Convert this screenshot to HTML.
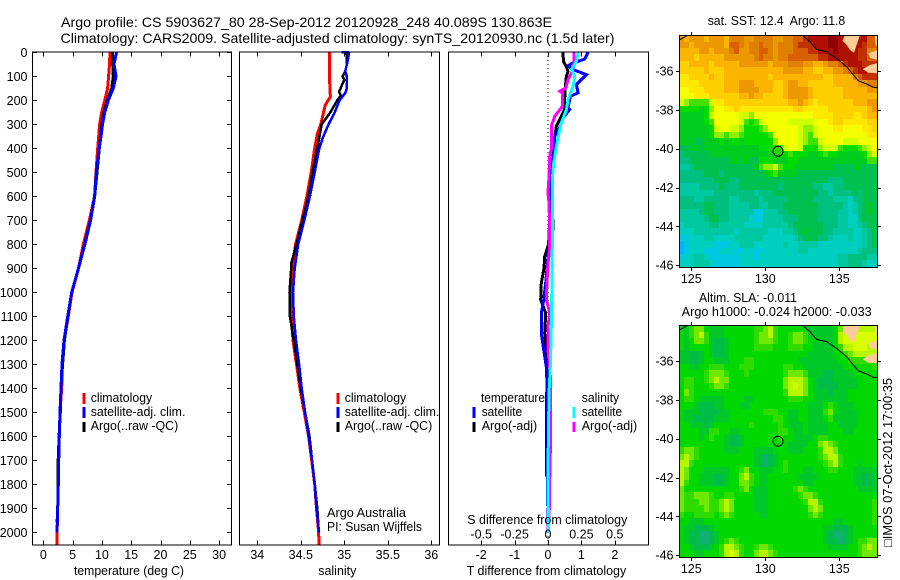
<!DOCTYPE html>
<html lang="en">
<head>
<meta charset="utf-8">
<title>Argo profile CS 5903627_80</title>
<style>
html,body{margin:0;padding:0;background:#fff;width:900px;height:580px;overflow:hidden}
svg{display:block}
text{font-family:"Liberation Sans",sans-serif;font-size:12.5px;fill:#000}
.t{font-size:14px}
</style>
</head>
<body>
<svg id="chart" width="900" height="580" viewBox="0 0 900 580" xmlns="http://www.w3.org/2000/svg">
  <text class="t" x="61" y="27" textLength="491" lengthAdjust="spacingAndGlyphs">Argo profile: CS 5903627_80 28-Sep-2012 20120928_248 40.089S 130.863E</text>
  <text class="t" x="60.5" y="43" textLength="554" lengthAdjust="spacingAndGlyphs">Climatology: CARS2009. Satellite-adjusted climatology: synTS_20120930.nc (1.5d later)</text>
  <g id="layer-maps"></g>
  <g id="layer-panels"></g>

  <text x="74" y="575" textLength="110" lengthAdjust="spacingAndGlyphs">temperature (deg C)</text>
  <text x="318.3" y="575" textLength="38" lengthAdjust="spacingAndGlyphs">salinity</text>
  <text x="466.7" y="575" textLength="159.5" lengthAdjust="spacingAndGlyphs">T difference from climatology</text>
  <text x="467.3" y="524" textLength="160" lengthAdjust="spacingAndGlyphs">S difference from climatology</text>

  <g>
    <line x1="84" x2="84" y1="393" y2="404" stroke="#f00" stroke-width="3" shape-rendering="crispEdges"/>
    <line x1="84" x2="84" y1="407" y2="418" stroke="#00f" stroke-width="3" shape-rendering="crispEdges"/>
    <line x1="84" x2="84" y1="422" y2="432" stroke="#000" stroke-width="3" shape-rendering="crispEdges"/>
    <text x="90.7" y="402" textLength="61.5" lengthAdjust="spacingAndGlyphs">climatology</text>
    <text x="90.7" y="416" textLength="94.7" lengthAdjust="spacingAndGlyphs">satellite-adj. clim.</text>
    <text x="90.7" y="430" textLength="87.6" lengthAdjust="spacingAndGlyphs">Argo(..raw -QC)</text>
  </g>
  <g>
    <line x1="338" x2="338" y1="393" y2="404" stroke="#f00" stroke-width="3" shape-rendering="crispEdges"/>
    <line x1="338" x2="338" y1="407" y2="418" stroke="#00f" stroke-width="3" shape-rendering="crispEdges"/>
    <line x1="338" x2="338" y1="422" y2="432" stroke="#000" stroke-width="3" shape-rendering="crispEdges"/>
    <text x="344.7" y="402" textLength="61.5" lengthAdjust="spacingAndGlyphs">climatology</text>
    <text x="344.7" y="416" textLength="94.7" lengthAdjust="spacingAndGlyphs">satellite-adj. clim.</text>
    <text x="344.7" y="430" textLength="87.6" lengthAdjust="spacingAndGlyphs">Argo(..raw -QC)</text>
    <text x="327" y="517" textLength="79" lengthAdjust="spacingAndGlyphs">Argo Australia</text>
    <text x="327" y="531" textLength="95" lengthAdjust="spacingAndGlyphs">PI: Susan Wijffels</text>
  </g>
  <g>
    <line x1="474" x2="474" y1="407" y2="418" stroke="#00f" stroke-width="3" shape-rendering="crispEdges"/>
    <line x1="474" x2="474" y1="422" y2="432" stroke="#000" stroke-width="3" shape-rendering="crispEdges"/>
    <line x1="574" x2="574" y1="407" y2="418" stroke="#0ff" stroke-width="3" shape-rendering="crispEdges"/>
    <line x1="574" x2="574" y1="422" y2="432" stroke="#f0f" stroke-width="3" shape-rendering="crispEdges"/>
    <text x="481" y="402" textLength="64" lengthAdjust="spacingAndGlyphs">temperature</text>
    <text x="481.7" y="416" textLength="40.5" lengthAdjust="spacingAndGlyphs">satellite</text>
    <text x="481.7" y="430" textLength="55.5" lengthAdjust="spacingAndGlyphs">Argo(-adj)</text>
    <text x="581.7" y="402" textLength="37.5" lengthAdjust="spacingAndGlyphs">salinity</text>
    <text x="581.7" y="416" textLength="40.5" lengthAdjust="spacingAndGlyphs">satellite</text>
    <text x="581.7" y="430" textLength="55.5" lengthAdjust="spacingAndGlyphs">Argo(-adj)</text>
  </g>

  <text x="707.7" y="25" textLength="137.5" lengthAdjust="spacingAndGlyphs" xml:space="preserve">sat. SST: 12.4  Argo: 11.8</text>
  <text x="699" y="302" textLength="98" lengthAdjust="spacingAndGlyphs">Altim. SLA: -0.011</text>
  <text x="681.7" y="316" textLength="190" lengthAdjust="spacingAndGlyphs">Argo h1000: -0.024 h2000: -0.033</text>
  <text transform="translate(892,547) rotate(-90)" x="0" y="0" textLength="169" lengthAdjust="spacingAndGlyphs" style="font-family:'Liberation Sans','DejaVu Sans',sans-serif">□IMOS 07-Oct-2012 17:00:35</text>
</svg>
<script>
/* ---------- axis tick data ---------- */
const depthTicks = [0,100,200,300,400,500,600,700,800,900,1000,1100,1200,1300,1400,1500,1600,1700,1800,1900,2000];
const tempTicks = [0,5,10,15,20,25,30];
const salTicks = [34,34.5,35,35.5,36];
const salTickLabels = ['34','34.5','35','35.5','36'];
const tDiffTicks = [-2,-1,0,1,2];
const sDiffTicks = [-0.5,-0.25,0,0.25,0.5];
const sDiffTickLabels = ['-0.5','-0.25','0','0.25','0.5'];
const lonTicks = [125,130,135];
const latTicks = [-36,-38,-40,-42,-44,-46];

/* ---------- temperature profiles ---------- */
const climTempDepths = [0,50,100,150,200,250,300,350,400,500,600,700,800,900,1000,1100,1200,1300,1400,1500,1600,1700,1800,1900,2000,2053];
const climTempValues = [11.38,11.3,11.15,10.98,10.5,9.97,9.6,9.45,9.28,9.0,8.75,7.85,6.83,6.0,4.9,4.27,3.55,3.24,3.14,2.85,2.73,2.62,2.56,2.45,2.36,2.34];
const argoTempDepths = [0,50,100,150,200,250,300,350,400,500,600,700,800,900,1000,1100,1200,1300,1400,1500,1600,1700,1800,1900,1960];
const argoTempValues = [11.84,11.84,11.95,11.67,10.93,10.36,10.0,9.8,9.56,9.16,8.75,8.05,7.05,6.0,4.85,4.2,3.6,3.3,3.0,2.9,2.7,2.55,2.55,2.45,2.35];
const satTempDepths = [0,50,100,150,200,250,300,350,400,500,600,700,800,900,1000,1100,1200,1300,1400,1500,1600,1700,1800,1900,1950,2000];
const satTempValues = [12.5,12.07,12.4,11.95,11.1,10.5,10.1,9.85,9.56,9.05,8.77,8.08,7.1,6.0,4.85,4.16,3.53,3.19,3.02,2.85,2.73,2.62,2.56,2.45,2.42,2.3];

/* ---------- salinity profiles ---------- */
const climSalDepths = [0,100,150,185,220,300,340,400,500,600,700,800,900,1000,1100,1200,1300,1400,1500,1600,1700,1800,1900,2000,2053];
const climSalValues = [34.83,34.83,34.835,34.84,34.78,34.73,34.69,34.66,34.62,34.57,34.51,34.44,34.40,34.38,34.39,34.41,34.45,34.49,34.54,34.59,34.625,34.66,34.68,34.705,34.71];
const argoSalDepths = [0,20,50,80,100,115,130,165,180,200,250,300,350,400,500,600,700,800,880,900,1000,1100,1200,1300,1400,1500,1600,1700,1800,1900,1960];
const argoSalValues = [35.02,35.03,35.03,35.01,34.98,35.0,34.98,34.94,34.96,34.92,34.84,34.74,34.715,34.69,34.635,34.59,34.52,34.45,34.39,34.39,34.37,34.375,34.42,34.46,34.5,34.55,34.6,34.63,34.66,34.69,34.7];
const satSalDepths = [0,1,15,50,80,100,150,170,200,250,300,350,400,500,600,700,800,900,1000,1100,1200,1300,1400,1500,1600,1700,1800,1900,2000];
const satSalValues = [34.97,35.05,35.05,35.03,35.01,35.03,35.03,35.01,34.946,34.89,34.82,34.76,34.713,34.66,34.605,34.54,34.47,34.43,34.41,34.42,34.445,34.48,34.51,34.55,34.59,34.63,34.66,34.68,34.71];

/* ---------- difference profiles ---------- */
const diffArgoTempDepths = [0,10,40,60,80,100,140,190,239,308,350,433,489,600,690,700,740,750,808,850,900,961,1030,1087,1171,1280,1450,1767];
const diffArgoTempValues = [0.45,0.45,0.47,0.55,0.6,0.55,0.52,0.5,0.5,0.25,0.2,0.15,0.1,0.1,0.1,0.15,0.15,0.1,0.0,-0.1,-0.12,-0.2,-0.22,-0.07,-0.1,-0.03,-0.04,-0.05];
const diffSatTempDepths = [0,28,38,44,56,72,93,114,135,169,183,231,238,274,308,350,433,503,558,700,850,960,1032,1087,1171,1240,1310,1379,1546,2000];
const diffSatTempValues = [1.2,1.1,0.9,0.75,0.6,0.75,1.15,1.0,0.85,0.9,0.67,0.6,0.65,0.45,0.37,0.2,0.17,0.1,0.05,0.05,0.0,-0.07,-0.13,-0.2,-0.2,-0.13,-0.05,-0.03,-0.03,0.0];
const diffArgoSalDepths = [0,38,72,86,114,149,162,169,225,267,308,406,433,517,586,628,739,822,878,961,1030,1087,1143,1240,1365,1587,1781,1878,1990];
const diffArgoSalValues = [0.195,0.195,0.1875,0.175,0.15,0.1325,0.0875,0.1075,0.1075,0.05,0.025,0.025,0.0125,0.0075,0,0.0075,0.0125,0.0125,0,-0.0075,-0.0125,0.0125,0,0,0.02,0.02,0.0125,0.0125,0];
const diffSatSalDepths = [0,38,72,100,142,197,239,294,336,392,461,531,808,1030,1143,1310,1421,1726,2000];
const diffSatSalValues = [0.225,0.2125,0.175,0.2,0.1875,0.15,0.1375,0.1,0.0825,0.0625,0.0425,0.0325,0.0325,0.0275,0.025,0.0175,0.0075,0,0.003];

/* ---------- map colour scale levels ---------- */
const sstLevelColors = ['#00b4ff','#00c8e0','#00cfc0','#00c8a0','#00c080','#00c050','#00cc20','#00dc00','#40e000','#90f000','#d0ff00','#f4ff00','#ffe800','#ffd000','#fbb400','#ec9800','#e08000','#d86000','#c03000','#b01000','#900000'];
const slaLevelColors = ['#00a0c0','#00a8a0','#00b090','#08b080','#10b070','#00bc48','#00c828','#00d800','#30dc00','#70e800','#b8f600','#d8ff00'];

/* ---------- SST heatmap levels, north to south ---------- */
const sstRows = [
[15,14,15,15,15,14,15,15,15,14,16,16,16,15,15,16,16,16,16,15,15,16,16,17,17,18,19,19,19,19,20,20,19,19,19,19,19,19,17,17],
[15,15,14,15,15,15,15,15,15,14,17,17,16,15,16,16,17,16,16,15,16,16,16,17,18,18,18,19,19,19,20,20,19,19,19,19,19,18,17,17],
[14,14,14,14,15,15,14,15,15,15,16,17,15,15,16,16,17,17,16,15,16,16,16,17,17,17,18,18,19,19,19,20,19,19,19,19,18,18,16,16],
[14,14,14,13,14,14,14,14,14,15,15,15,15,15,15,16,17,16,16,15,16,16,17,17,17,17,17,17,18,18,19,19,19,19,19,19,18,18,17,17],
[13,13,14,14,14,14,13,14,14,14,14,14,15,15,15,15,15,15,14,15,15,15,16,16,16,15,15,14,14,15,16,16,17,18,19,19,19,18,18,18],
[13,13,13,13,13,14,13,13,13,14,14,14,14,14,14,14,14,14,14,14,14,15,15,15,15,14,14,13,13,14,14,15,15,16,17,18,19,19,18,18],
[12,12,13,13,13,13,14,13,13,14,14,14,14,14,14,14,14,14,13,14,14,14,14,14,14,14,14,14,14,13,13,14,14,14,14,16,17,18,18,18],
[12,12,12,12,13,13,13,13,13,14,14,14,15,15,15,14,14,14,14,13,13,14,15,15,14,14,13,13,13,13,13,14,14,14,14,14,15,15,16,16],
[11,11,12,12,12,13,13,13,13,14,14,14,15,15,15,15,14,14,14,13,13,14,15,15,15,15,14,13,13,13,13,13,13,14,14,14,14,14,15,15],
[11,11,11,12,12,12,13,13,13,13,13,13,14,14,15,14,14,13,13,13,13,14,15,15,15,15,14,13,13,13,13,13,13,14,14,14,14,14,14,14],
[10,9,8,8,8,8,10,12,12,13,13,13,13,13,13,13,13,13,13,13,13,13,14,14,15,14,13,12,13,13,13,13,13,13,13,14,14,14,15,15],
[7,7,7,7,6,7,9,11,11,12,12,13,12,12,12,12,12,12,12,12,12,12,12,13,13,12,12,12,12,12,13,13,13,13,13,13,13,13,14,15],
[6,6,6,6,6,7,10,11,11,11,11,11,10,10,9,11,11,11,11,11,11,11,11,11,11,11,11,12,12,12,12,13,13,13,13,12,12,13,14,14],
[6,6,6,6,6,7,8,11,11,11,11,11,10,8,7,8,10,11,11,11,11,11,10,10,10,10,10,11,11,11,12,13,13,12,12,12,12,12,13,13],
[6,6,6,6,6,6,7,10,11,11,10,10,9,7,7,7,8,9,11,11,11,11,11,11,10,9,9,10,11,11,11,12,12,11,11,11,11,12,12,13],
[6,6,6,6,6,6,7,9,9,8,9,9,8,7,7,7,7,7,8,11,11,11,11,11,10,9,8,10,11,11,11,11,11,11,11,11,11,11,12,12],
[6,6,6,5,5,6,6,6,7,6,7,7,6,7,7,7,7,7,7,9,11,11,11,11,10,9,8,8,10,11,11,11,11,10,10,10,11,11,11,11],
[5,5,6,6,5,6,6,6,6,6,6,6,6,6,6,6,7,7,7,7,8,10,11,11,10,7,7,7,9,10,10,10,8,7,7,7,8,9,10,11],
[4,5,5,5,5,5,6,6,6,6,6,6,6,6,6,6,6,6,6,7,7,7,8,7,7,7,6,6,7,8,7,7,6,6,6,6,6,7,9,10],
[4,4,5,5,5,5,5,5,5,5,6,6,6,6,5,5,7,7,7,6,6,6,7,7,6,6,6,6,6,6,6,6,6,6,6,6,6,6,8,8],
[3,3,4,5,5,5,5,5,5,5,5,5,5,5,5,6,8,9,9,10,8,7,7,6,6,6,6,6,6,6,6,5,5,5,5,6,6,5,5,5],
[4,4,4,4,4,5,5,5,4,5,5,5,5,5,5,5,5,6,7,8,6,6,6,6,5,5,5,5,5,5,5,5,5,5,5,5,5,5,5,5],
[4,4,4,4,4,4,4,5,5,5,4,4,5,5,5,5,5,5,5,5,5,5,5,5,5,5,5,5,5,5,4,4,4,5,5,5,5,5,5,5],
[3,3,3,3,4,4,4,4,5,4,4,4,5,5,5,5,5,5,5,5,4,5,5,5,5,5,5,4,4,3,3,4,4,5,5,5,5,5,5,5],
[3,3,3,3,3,3,3,4,4,4,4,4,4,4,4,3,4,4,4,5,5,5,5,5,5,5,5,5,4,4,3,4,4,4,4,5,4,5,5,5],
[4,4,4,3,3,4,4,4,4,4,3,3,4,4,4,4,3,4,4,4,4,4,5,5,5,5,5,4,4,4,4,3,3,3,2,4,4,5,5,5],
[4,4,4,4,4,5,5,4,4,4,3,3,3,3,4,4,3,3,4,4,4,5,5,5,5,5,5,5,4,4,4,4,4,3,2,3,4,5,6,5],
[3,3,3,3,4,5,5,4,4,4,3,3,3,3,3,1,1,3,3,3,4,4,5,5,5,5,5,5,4,4,4,4,3,3,2,3,4,5,6,5],
[3,3,3,3,3,4,5,5,4,4,3,3,3,3,2,1,1,3,3,3,3,4,4,4,5,5,5,5,4,4,4,4,3,3,2,2,4,5,5,5],
[2,3,3,3,3,3,4,4,3,3,3,3,3,2,2,2,2,3,3,3,3,3,4,5,5,5,5,5,5,4,4,4,3,3,2,2,3,4,5,5],
[2,2,2,3,3,3,3,3,3,3,3,2,3,3,3,3,3,3,2,2,2,3,3,4,5,6,5,5,5,4,4,3,3,3,3,2,2,3,4,5],
[1,1,2,2,2,3,3,2,2,2,2,3,3,3,3,3,3,2,2,2,2,2,2,3,4,5,5,5,4,4,3,2,2,2,3,2,2,3,4,5],
[0,1,2,2,2,2,2,1,1,1,2,2,3,3,3,2,2,2,2,2,2,3,2,2,3,3,3,3,2,2,2,2,2,2,2,2,2,3,4,5],
[0,1,2,2,2,1,1,1,2,2,2,1,1,2,2,1,1,2,2,2,2,2,2,2,3,3,2,2,2,2,2,2,2,2,2,2,3,4,4,4],
[1,2,2,3,3,2,1,1,1,1,1,1,2,2,2,1,2,2,2,2,2,2,2,2,2,2,2,2,2,2,2,2,3,3,4,4,4,4,3,3],
[2,2,2,3,3,3,2,1,1,1,1,1,2,2,2,2,2,2,2,2,2,2,2,2,2,2,2,2,2,2,2,2,3,3,4,4,4,3,2,2]
];

/* ---------- SLA heatmap levels, north to south ---------- */
const slaRows = [
[7,6,8,9,9,7,6,6,6,7,7,7,7,7,7,8,8,9,10,8,7,7,7,7,7,6,6,6,6,6,6,7,9,10,10,10,10,10,10,10],
[7,6,8,9,10,8,6,6,6,7,7,7,7,7,7,8,9,9,10,8,7,7,8,9,9,8,6,6,6,6,6,7,10,11,11,11,11,11,11,11],
[7,6,7,9,9,8,6,5,5,6,7,7,7,7,7,8,9,9,9,8,7,7,8,9,9,8,7,6,6,6,6,7,10,11,11,11,11,11,11,11],
[7,6,7,7,7,7,6,5,5,6,7,7,7,7,7,8,8,8,8,7,7,7,8,8,8,7,7,6,6,6,6,7,8,10,10,11,11,11,10,10],
[6,6,5,5,6,7,6,5,5,6,7,7,7,7,7,7,7,7,7,7,7,7,7,7,7,7,6,6,6,6,6,7,7,8,9,10,10,10,10,10],
[6,6,5,5,6,7,7,6,6,6,7,7,7,8,8,7,7,7,7,7,7,7,7,7,6,6,6,6,6,6,6,6,7,7,8,8,8,8,8,8],
[7,7,6,6,7,7,8,8,8,7,7,7,8,8,8,7,7,7,7,7,7,8,8,7,7,6,6,6,6,6,6,6,6,7,7,7,7,7,7,8],
[7,7,7,7,7,8,9,9,9,8,7,7,7,8,7,7,7,7,7,7,7,8,9,9,9,8,6,6,6,5,5,6,6,6,6,7,7,7,7,7],
[7,8,8,7,7,8,9,10,9,9,7,7,7,7,7,7,7,7,7,7,7,9,10,10,10,9,7,6,5,5,5,6,6,6,6,6,7,7,7,7],
[7,8,8,7,7,7,8,9,9,8,7,7,7,7,7,7,7,7,7,7,7,9,10,11,10,9,7,6,5,5,5,5,6,6,6,6,7,7,7,7],
[7,9,8,7,7,7,7,7,7,7,7,7,7,7,7,7,7,7,7,7,7,8,10,10,10,9,7,6,6,6,5,6,6,6,7,7,7,7,7,7],
[7,8,8,7,6,6,6,6,6,7,7,7,7,6,6,7,7,7,7,7,7,7,8,8,8,7,7,6,6,6,6,6,6,6,7,7,7,7,7,7],
[7,7,7,6,5,5,5,6,6,7,7,7,6,6,7,7,7,7,7,7,7,7,7,7,7,7,6,6,6,7,8,7,6,6,6,7,7,7,7,7],
[7,6,6,6,5,5,5,5,6,6,7,7,7,7,7,7,7,8,8,8,7,7,6,6,7,7,6,6,6,8,9,7,6,6,6,6,7,7,7,7],
[7,6,6,5,5,5,5,6,6,6,7,7,7,7,7,7,7,7,7,8,8,7,6,6,7,7,6,6,6,7,8,6,6,6,6,6,7,7,7,7],
[7,7,6,6,6,5,6,7,7,7,7,7,7,7,8,7,7,7,7,7,8,7,6,6,6,7,6,6,6,6,7,7,6,6,6,6,7,7,7,7],
[7,7,7,7,6,6,8,8,7,7,6,6,7,7,7,7,7,7,7,7,8,8,7,6,6,7,6,6,6,6,7,7,7,6,6,7,7,7,7,7],
[7,7,7,7,6,7,8,7,7,6,5,5,6,7,7,7,7,7,7,7,8,7,7,6,6,6,6,7,8,8,7,7,7,7,7,7,7,7,7,7],
[7,7,7,7,7,7,7,7,7,6,5,5,6,7,7,7,7,7,7,7,7,7,6,6,6,6,7,7,9,10,9,8,7,7,7,7,7,7,7,7],
[8,9,9,8,7,7,7,7,7,6,6,6,7,7,7,6,6,6,6,7,7,7,6,6,6,7,7,7,8,10,10,9,7,7,7,7,7,7,7,7],
[9,10,9,8,7,7,7,7,7,7,7,7,7,7,7,6,5,4,5,6,7,7,7,7,7,7,7,7,8,9,10,10,8,7,7,7,7,7,7,7],
[10,10,8,7,7,7,7,7,7,7,7,7,7,7,7,6,5,4,5,6,7,8,7,7,7,7,7,7,7,8,9,10,8,7,7,7,6,7,7,7],
[10,9,7,7,7,6,6,6,6,6,7,7,8,9,7,7,6,6,6,7,7,8,7,7,7,6,6,7,7,7,8,8,7,7,7,6,6,6,6,6],
[10,9,7,7,6,6,6,5,5,6,7,7,9,10,8,7,6,6,7,7,7,7,7,7,6,6,6,6,7,7,7,7,7,7,7,6,6,5,5,6],
[10,8,7,7,6,6,6,5,5,6,7,7,9,9,8,7,6,6,7,7,7,7,7,7,7,6,6,7,7,7,7,7,7,7,7,6,6,5,5,6],
[9,7,7,7,7,7,7,7,7,7,7,7,8,9,7,6,6,6,7,7,7,7,7,8,9,8,7,7,7,7,7,7,7,7,7,7,6,6,6,6],
[9,8,8,9,9,9,8,7,7,8,8,7,7,7,7,6,6,6,7,7,7,7,7,7,8,9,9,8,7,7,7,7,7,7,7,7,7,7,7,7],
[9,8,8,8,9,9,8,8,9,10,9,7,7,7,7,6,6,6,7,7,7,7,7,7,7,8,10,10,8,7,7,7,7,7,7,7,7,7,7,8],
[9,8,8,8,8,9,8,8,9,10,9,7,7,7,7,6,6,6,7,7,7,7,7,7,7,7,9,10,9,7,7,7,7,7,7,7,7,7,7,8],
[8,7,7,8,8,8,8,7,8,9,8,7,7,7,7,7,6,6,7,7,7,7,7,7,7,7,8,9,8,7,7,7,7,7,7,7,7,7,7,8],
[7,7,6,6,6,7,7,7,7,7,7,7,7,7,7,7,7,7,7,7,7,7,7,7,7,7,7,7,7,7,7,6,6,7,7,7,7,7,7,8],
[7,6,6,5,5,5,6,7,7,7,7,7,7,7,7,7,7,7,7,7,7,7,7,7,7,7,7,7,7,6,6,5,5,5,6,7,7,7,7,7],
[7,6,5,5,4,4,5,6,7,7,7,7,7,7,7,7,7,7,7,7,7,7,7,7,7,7,7,7,7,6,5,4,4,5,6,7,7,7,7,7],
[7,6,5,5,4,4,5,6,7,8,9,8,7,7,7,7,7,7,7,7,7,7,7,7,7,7,7,7,7,6,5,5,4,5,6,7,8,8,9,9],
[7,7,6,5,5,5,6,7,8,10,10,9,8,7,7,8,9,9,8,7,7,7,7,7,7,7,7,7,7,7,6,6,6,6,7,7,8,9,10,9],
[7,7,7,6,6,7,7,7,8,10,11,10,8,7,7,9,10,10,9,8,7,7,7,7,7,7,7,7,7,7,7,7,7,7,7,7,8,9,9,9]
];

/* ---------- geography (degrees) ---------- */
const floatLon = 130.863;
const floatLat = -40.089;
const coastMainLon = [132.57,133.02,133.47,134.14,134.82,135.5,135.95,136.28,136.85,137.3,137.57];
const coastMainLat = [-34.2,-34.49,-34.89,-35.0,-35.35,-35.78,-36.2,-36.5,-36.67,-36.84,-36.86];
const coastWestLon = [124.19,124.68];
const coastWestLat = [-34.4,-34.2];
const landALon = [135.38,136.4,136.2,136.0,135.72,135.5,135.22];
const landALat = [-34.15,-34.15,-34.58,-35.05,-34.92,-34.66,-34.44];
const landBLon = [136.96,137.57,137.57,137.07];
const landBLat = [-35.1,-34.92,-35.43,-35.32];
const landCLon = [136.58,137.07,137.57,137.57,136.96];
const landCLat = [-35.9,-35.69,-35.6,-36.12,-36.08];
const landDLon = [137.4,137.57,137.57,137.45];
const landDLat = [-34.2,-34.15,-34.75,-34.65];

/* ---------- rendering ---------- */
const NS = 'http://www.w3.org/2000/svg';
const panelTop = 52, panelBottom = 545;
const xTemp = v => 43.3 + 5.86 * v;
const xSal = v => 257.3 + 87 * (v - 34);
const xTDiff = v => 548 + 33.4 * v;
const xSDiff = v => 548 + 133.6 * v;
const yDepth = d => 52.3 + 0.24 * d;
const mapLeft = 679.5, mapRight = 877.5;
const xLon = lon => 691.3 + 14.8 * (lon - 125);
const latY = (lat, y36) => y36 + 19.42 * (-36 - lat);
const lonStart = 124.19, lonStep = 0.3345;
const latStart = -34.15, latStep = 0.3315;
const panelsLayer = document.getElementById('layer-panels');
const mapsLayer = document.getElementById('layer-maps');

function mk(tag, parent, attrs) {
  const node = document.createElementNS(NS, tag);
  for (const key in attrs) node.setAttribute(key, attrs[key]);
  parent.appendChild(node);
  return node;
}
function profile(parent, name, depths, values, xFn, color, width) {
  const pts = depths.map((d, i) => xFn(values[i]).toFixed(1) + ',' + yDepth(d).toFixed(1)).join(' ');
  const line = mk('polyline', parent, {points: pts, fill: 'none', stroke: color, 'stroke-width': width, 'stroke-linejoin': 'miter', 'shape-rendering': 'crispEdges'});
  
  
}
function frame(parent, x0, x1, y0, y1) {
  const r = mk('rect', parent, {x: x0, y: y0, width: x1 - x0, height: y1 - y0, fill: 'none', stroke: '#000', 'stroke-width': 1, 'shape-rendering': 'crispEdges'});
  
  
}
function tickLine(parent, x1, y1, x2, y2) {
  const l = mk('line', parent, {x1, y1, x2, y2, stroke: '#000', 'stroke-width': 1, 'shape-rendering': 'crispEdges'});
  
  
}
function label(parent, str, x, y, anchor) {
  const t = mk('text', parent, {x, y, 'text-anchor': anchor});
  t.textContent = str;
  
  
}
function xTicks(parent, ticks, labels, xFn, y) {
  ticks.forEach((v, i) => {
    const x = Math.round(xFn(v)) + 0.5;
    tickLine(parent, x, panelTop, x, panelTop + 4.5);
    tickLine(parent, x, panelBottom, x, panelBottom - 4.5);
    label(parent, labels[i], xFn(v), y, 'middle');
  });
}

function tempPanel() {
  const g = mk('g', panelsLayer, {});
  
  
  profile(g, 'climatology-temperature-line', climTempDepths, climTempValues, xTemp, '#f00', 3);
  profile(g, 'argo-temperature-line', argoTempDepths, argoTempValues, xTemp, '#000', 3);
  profile(g, 'satellite-temperature-line', satTempDepths, satTempValues, xTemp, '#00f', 3);
  frame(g, 32.5, 231.5, panelTop, panelBottom);
  xTicks(g, tempTicks, tempTicks.map(String), xTemp, 559);
  depthTicks.forEach(d => {
    const y = Math.round(yDepth(d)) + 0.5;
    tickLine(g, 32.5, y, 37, y);
    tickLine(g, 231.5, y, 227, y);
    label(g, String(d), 27.5, yDepth(d) + 4.5, 'end');
  });
}
function salPanel() {
  const g = mk('g', panelsLayer, {});
  
  
  profile(g, 'climatology-salinity-line', climSalDepths, climSalValues, xSal, '#f00', 3);
  profile(g, 'argo-salinity-line', argoSalDepths, argoSalValues, xSal, '#000', 2.5);
  profile(g, 'satellite-salinity-line', satSalDepths, satSalValues, xSal, '#00f', 2.5);
  frame(g, 239.5, 439.5, panelTop, panelBottom);
  xTicks(g, salTicks, salTickLabels, xSal, 559);
}
function diffPanel() {
  const g = mk('g', panelsLayer, {});
  
  
  const zero = mk('line', g, {x1: xTDiff(0), x2: xTDiff(0), y1: panelTop, y2: panelBottom, stroke: '#000', 'stroke-width': 1, 'stroke-dasharray': '1 3', 'shape-rendering': 'crispEdges'});
  
  
  profile(g, 'argo-temperature-difference-line', diffArgoTempDepths, diffArgoTempValues, xTDiff, '#000', 3);
  profile(g, 'satellite-temperature-difference-line', diffSatTempDepths, diffSatTempValues, xTDiff, '#00f', 3);
  profile(g, 'argo-salinity-difference-line', diffArgoSalDepths, diffArgoSalValues, xSDiff, '#f0f', 3);
  profile(g, 'satellite-salinity-difference-line', diffSatSalDepths, diffSatSalValues, xSDiff, '#0ff', 3);
  frame(g, 448.5, 648.5, panelTop, panelBottom);
  xTicks(g, tDiffTicks, tDiffTicks.map(String), xTDiff, 559);
  sDiffTicks.forEach((v, i) => label(g, sDiffTickLabels[i], xSDiff(v), 538.5, 'middle'));
}
function land(parent, lons, lats, y36) {
  const pts = lons.map((lon, i) => xLon(lon).toFixed(1) + ',' + latY(lats[i], y36).toFixed(1)).join(' ');
  const p = mk('polygon', parent, {points: pts, fill: '#ffcc99', stroke: 'none'});
  
  
}
function coast(parent, lons, lats, y36) {
  const pts = lons.map((lon, i) => xLon(lon).toFixed(1) + ',' + latY(lats[i], y36).toFixed(1)).join(' ');
  const p = mk('polyline', parent, {points: pts, fill: 'none', stroke: '#000', 'stroke-width': 1});
  
  
}
function mapPanel(name, rows, palette, y36, top, bottom, circleFill) {
  const g = mk('g', mapsLayer, {});
  
  
  rows.forEach((row, r) => {
    row.forEach((level, c) => {
      const x0 = Math.round(xLon(lonStart + c * lonStep));
      const x1 = Math.round(xLon(lonStart + (c + 1) * lonStep));
      const y0 = Math.round(latY(latStart - r * latStep, y36));
      const y1 = Math.round(latY(latStart - (r + 1) * latStep, y36));
      const cell = mk('rect', g, {x: x0, y: y0, width: x1 - x0, height: y1 - y0, fill: palette[level], 'shape-rendering': 'crispEdges'});
      
      
    });
  });
  land(g, landALon, landALat, y36);
  land(g, landBLon, landBLat, y36);
  land(g, landCLon, landCLat, y36);
  land(g, landDLon, landDLat, y36);
  coast(g, coastMainLon, coastMainLat, y36);
  coast(g, coastWestLon, coastWestLat, y36);
  const marker = mk('circle', g, {cx: xLon(floatLon), cy: latY(floatLat, y36) + 0.8, r: 5, fill: circleFill, stroke: '#000', 'stroke-width': 1});
  
  
  frame(g, mapLeft, mapRight, top, bottom);
  lonTicks.forEach(lon => {
    const x = Math.round(xLon(lon)) + 0.5;
    tickLine(g, x, top, x, top - 3.5);
    tickLine(g, x, bottom, x, bottom + 3.5);
    label(g, String(lon), xLon(lon), bottom + 15.5, 'middle');
  });
  latTicks.forEach(lat => {
    const y = Math.round(latY(lat, y36)) + 0.5;
    tickLine(g, mapLeft, y, mapLeft - 3.5, y);
    tickLine(g, mapRight, y, mapRight + 3.5, y);
    label(g, String(lat), 673.5, latY(lat, y36) + 4.5, 'end');
  });
}
mapPanel('sst-map', sstRows, sstLevelColors, 71, 35.5, 267.5, '#30d010');
mapPanel('sla-map', slaRows, slaLevelColors, 361, 325.5, 557.5, 'none');
tempPanel();
salPanel();
diffPanel();
</script>
</body>
</html>
